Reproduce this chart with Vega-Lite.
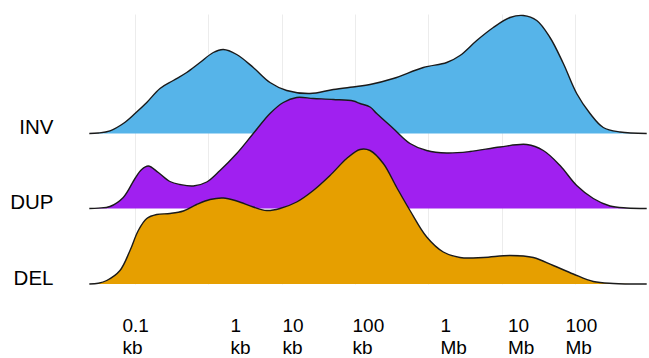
{
  "$schema": "https://vega.github.io/schema/vega-lite/v6.json",
  "autosize": "none",
  "padding": {"left": 60, "top": 14, "right": 0, "bottom": 74},
  "width": 589,
  "height": 270,
  "background": "white",
  "config": {"view": {"stroke": null}, "font": "Liberation Sans"},
  "datasets": {
    "dens": [
      {"series": "INV", "u": 1.377, "h": 0},
      {"series": "INV", "u": 1.5, "h": 0.5},
      {"series": "INV", "u": 1.659, "h": 2.7},
      {"series": "INV", "u": 1.84, "h": 10},
      {"series": "INV", "u": 2.0, "h": 20},
      {"series": "INV", "u": 2.16, "h": 31},
      {"series": "INV", "u": 2.341, "h": 45},
      {"series": "INV", "u": 2.522, "h": 53},
      {"series": "INV", "u": 2.705, "h": 61},
      {"series": "INV", "u": 2.886, "h": 71},
      {"series": "INV", "u": 3.068, "h": 81},
      {"series": "INV", "u": 3.204, "h": 84},
      {"series": "INV", "u": 3.387, "h": 79},
      {"series": "INV", "u": 3.613, "h": 66},
      {"series": "INV", "u": 3.841, "h": 51},
      {"series": "INV", "u": 4.069, "h": 43},
      {"series": "INV", "u": 4.386, "h": 40},
      {"series": "INV", "u": 4.704, "h": 44},
      {"series": "INV", "u": 5.023, "h": 47},
      {"series": "INV", "u": 5.205, "h": 49},
      {"series": "INV", "u": 5.522, "h": 55},
      {"series": "INV", "u": 5.932, "h": 66},
      {"series": "INV", "u": 6.251, "h": 71},
      {"series": "INV", "u": 6.432, "h": 78},
      {"series": "INV", "u": 6.66, "h": 93},
      {"series": "INV", "u": 6.886, "h": 106},
      {"series": "INV", "u": 7.114, "h": 116},
      {"series": "INV", "u": 7.295, "h": 118},
      {"series": "INV", "u": 7.478, "h": 113},
      {"series": "INV", "u": 7.659, "h": 96},
      {"series": "INV", "u": 7.841, "h": 70},
      {"series": "INV", "u": 8.023, "h": 40},
      {"series": "INV", "u": 8.205, "h": 20},
      {"series": "INV", "u": 8.386, "h": 6},
      {"series": "INV", "u": 8.614, "h": 1.5},
      {"series": "INV", "u": 8.978, "h": 0},

      {"series": "DUP", "u": 1.377, "h": 0},
      {"series": "DUP", "u": 1.5, "h": 0.4},
      {"series": "DUP", "u": 1.659, "h": 2},
      {"series": "DUP", "u": 1.84, "h": 11},
      {"series": "DUP", "u": 2.0, "h": 30},
      {"series": "DUP", "u": 2.091, "h": 39},
      {"series": "DUP", "u": 2.181, "h": 42.5},
      {"series": "DUP", "u": 2.318, "h": 36},
      {"series": "DUP", "u": 2.477, "h": 27},
      {"series": "DUP", "u": 2.614, "h": 24},
      {"series": "DUP", "u": 2.795, "h": 22.5},
      {"series": "DUP", "u": 2.978, "h": 26.5},
      {"series": "DUP", "u": 3.159, "h": 38},
      {"series": "DUP", "u": 3.387, "h": 55},
      {"series": "DUP", "u": 3.613, "h": 75},
      {"series": "DUP", "u": 3.841, "h": 95},
      {"series": "DUP", "u": 4.022, "h": 106},
      {"series": "DUP", "u": 4.205, "h": 111},
      {"series": "DUP", "u": 4.431, "h": 110},
      {"series": "DUP", "u": 4.704, "h": 109},
      {"series": "DUP", "u": 4.977, "h": 107.5},
      {"series": "DUP", "u": 5.068, "h": 105},
      {"series": "DUP", "u": 5.205, "h": 101.5},
      {"series": "DUP", "u": 5.296, "h": 95},
      {"series": "DUP", "u": 5.522, "h": 80},
      {"series": "DUP", "u": 5.75, "h": 65},
      {"series": "DUP", "u": 5.978, "h": 58},
      {"series": "DUP", "u": 6.251, "h": 55.5},
      {"series": "DUP", "u": 6.568, "h": 57},
      {"series": "DUP", "u": 6.977, "h": 61.5},
      {"series": "DUP", "u": 7.342, "h": 64},
      {"series": "DUP", "u": 7.568, "h": 58},
      {"series": "DUP", "u": 7.796, "h": 43},
      {"series": "DUP", "u": 8.023, "h": 23},
      {"series": "DUP", "u": 8.25, "h": 10},
      {"series": "DUP", "u": 8.477, "h": 2.5},
      {"series": "DUP", "u": 8.705, "h": 0.5},
      {"series": "DUP", "u": 8.978, "h": 0},

      {"series": "DEL", "u": 1.377, "h": 0},
      {"series": "DEL", "u": 1.5, "h": 0.8},
      {"series": "DEL", "u": 1.614, "h": 3.5},
      {"series": "DEL", "u": 1.795, "h": 13.5},
      {"series": "DEL", "u": 1.932, "h": 33.5},
      {"series": "DEL", "u": 2.045, "h": 53.5},
      {"series": "DEL", "u": 2.16, "h": 65.5},
      {"series": "DEL", "u": 2.296, "h": 69.5},
      {"series": "DEL", "u": 2.477, "h": 70.5},
      {"series": "DEL", "u": 2.659, "h": 73},
      {"series": "DEL", "u": 2.841, "h": 79.5},
      {"series": "DEL", "u": 3.023, "h": 84.5},
      {"series": "DEL", "u": 3.204, "h": 86},
      {"series": "DEL", "u": 3.387, "h": 83},
      {"series": "DEL", "u": 3.613, "h": 77},
      {"series": "DEL", "u": 3.796, "h": 73.5},
      {"series": "DEL", "u": 3.977, "h": 75.5},
      {"series": "DEL", "u": 4.205, "h": 82},
      {"series": "DEL", "u": 4.431, "h": 93.5},
      {"series": "DEL", "u": 4.659, "h": 108.5},
      {"series": "DEL", "u": 4.887, "h": 125.5},
      {"series": "DEL", "u": 5.068, "h": 134.5},
      {"series": "DEL", "u": 5.205, "h": 133.5},
      {"series": "DEL", "u": 5.386, "h": 120.5},
      {"series": "DEL", "u": 5.569, "h": 96.5},
      {"series": "DEL", "u": 5.75, "h": 73.5},
      {"series": "DEL", "u": 5.978, "h": 47},
      {"series": "DEL", "u": 6.204, "h": 32},
      {"series": "DEL", "u": 6.432, "h": 26.5},
      {"series": "DEL", "u": 6.75, "h": 26.5},
      {"series": "DEL", "u": 7.114, "h": 28.5},
      {"series": "DEL", "u": 7.432, "h": 26.5},
      {"series": "DEL", "u": 7.704, "h": 18.5},
      {"series": "DEL", "u": 7.977, "h": 10},
      {"series": "DEL", "u": 8.25, "h": 2.5},
      {"series": "DEL", "u": 8.523, "h": 0.5},
      {"series": "DEL", "u": 8.978, "h": 0}
    ]
  },
  "data": {"name": "dens"},
  "encoding": {
    "x": {
      "field": "u",
      "type": "quantitative",
      "scale": {"domain": [0.97727, 9.00909], "nice": false, "zero": false},
      "axis": {
        "title": null,
        "values": [2, 3, 4, 5, 6, 7, 8],
        "grid": true,
        "gridColor": "#ececec",
        "gridWidth": 1,
        "domain": false,
        "ticks": false,
        "tickSize": 0,
        "labelExpr": "datum.value == 2 ? ['0.1','kb'] : datum.value == 3 ? ['1','kb'] : datum.value == 4 ? ['10','kb'] : datum.value == 5 ? ['100','kb'] : datum.value == 6 ? ['1','Mb'] : datum.value == 7 ? ['10','Mb'] : ['100','Mb']",
        "labelAlign": "left",
        "labelBaseline": "alphabetic",
        "labelFont": "Liberation Sans",
        "labelFontSize": 19,
        "labelLineHeight": 21.6,
        "labelColor": "#000000",
        "labelPadding": 47.7,
        "labelOverlap": false,
        "labelFlush": false,
        "labelBound": false,
        "labelOffset": {"expr": "datum.value == 2 ? -13 : datum.value == 3 ? 21.7 : datum.value == 4 ? 0.3 : datum.value == 5 ? -3 : datum.value == 6 ? 11.7 : datum.value == 7 ? 5.8 : -10"}
      }
    },
    "y": {
      "field": "h",
      "type": "quantitative",
      "scale": {"domain": [0, 270], "nice": false},
      "axis": {
        "title": null,
        "values": [0, 75.5, 150.5],
        "labelExpr": "datum.value < 1 ? 'DEL' : datum.value < 100 ? 'DUP' : 'INV'",
        "grid": false,
        "domain": false,
        "ticks": false,
        "tickSize": 0,
        "labelFont": "Liberation Sans",
        "labelFontSize": 20.5,
        "labelColor": "#000000",
        "labelAlign": "right",
        "labelBaseline": "alphabetic",
        "labelPadding": 7,
        "labelOverlap": false,
        "labelFlush": false,
        "labelBound": false
      }
    },
    "y2": {"datum": 0}
  },
  "layer": [
    {
      "transform": [{"filter": "datum.series === 'INV'"}],
      "mark": {"type": "area", "interpolate": "catmull-rom", "color": "#56B4E9", "opacity": 1, "yOffset": -150.5, "y2Offset": -150.5,
               "line": {"color": "#1a1a1a", "strokeWidth": 1.4, "yOffset": -150.5}}
    },
    {
      "transform": [{"filter": "datum.series === 'DUP'"}],
      "mark": {"type": "area", "interpolate": "catmull-rom", "color": "#A020F0", "opacity": 1, "yOffset": -75.5, "y2Offset": -75.5,
               "line": {"color": "#1a1a1a", "strokeWidth": 1.4, "yOffset": -75.5}}
    },
    {
      "transform": [{"filter": "datum.series === 'DEL'"}],
      "mark": {"type": "area", "interpolate": "catmull-rom", "color": "#E69F00", "opacity": 1,
               "line": {"color": "#1a1a1a", "strokeWidth": 1.4}}
    }
  ]
}
